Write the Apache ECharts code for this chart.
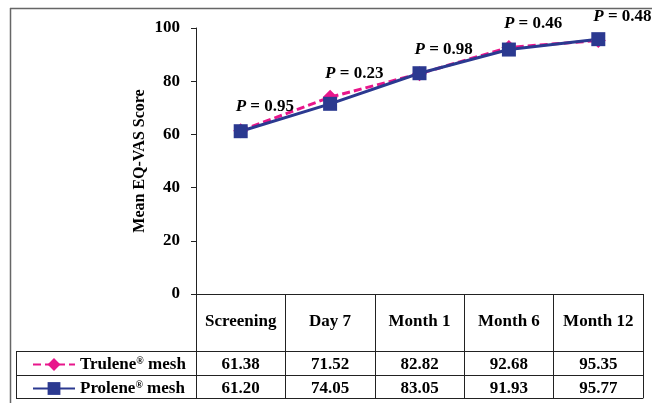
<!DOCTYPE html>
<html>
<head>
<meta charset="utf-8">
<script src="https://cdn.jsdelivr.net/npm/echarts@6/dist/echarts.min.js"></script>
<style>
  html, body { margin: 0; padding: 0; background: #fff; }
  #main { width: 652px; height: 403px; }
</style>
</head>
<body>
<div id="main"></div>
<script>
var categories = ['Screening', 'Day 7', 'Month 1', 'Month 6', 'Month 12'];
// values plotted
var truleneLine = [61.4, 74.0, 82.8, 92.7, 95.3];
var proleneLine = [61.2, 71.5, 83.0, 91.9, 95.8];
// values printed in the table under the chart
var truleneTable = ['61.38', '71.52', '82.82', '92.68', '95.35'];
var proleneTable = ['61.20', '74.05', '83.05', '91.93', '95.77'];
var pValues = ['0.95', '0.23', '0.98', '0.46', '0.48'];
var yTicks = [0, 20, 40, 60, 80, 100];

var serif = '"Liberation Serif", "DejaVu Serif", serif';
var pink = '#e8168b';
var navy = '#2b3990';

var dom = document.getElementById('main');
var chart = echarts.init(dom);

function tableAxis(data, offset, tickLen, margin, showLabel) {
    return {
        type: 'category',
        gridIndex: 0,
        position: 'bottom',
        offset: offset,
        data: data,
        boundaryGap: true,
        axisLine: { show: true, lineStyle: { color: '#222', width: 1 } },
        axisTick: { show: tickLen > 0, interval: 0, length: tickLen, lineStyle: { color: '#222', width: 1 } },
        axisLabel: {
            show: showLabel,
            interval: 0,
            margin: margin,
            color: '#000',
            fontFamily: serif,
            fontWeight: 'bold',
            fontSize: 17
        },
        splitLine: { show: false }
    };
}

function legendRow(name, top) {
    return {
        orient: 'horizontal',
        left: 27,
        top: top,
        itemWidth: 42,
        itemHeight: 16,
        itemGap: 6,
        data: [name],
        formatter: function (n) { return n.replace('®', '{s|®}'); },
        textStyle: {
            color: '#000',
            fontFamily: serif,
            fontWeight: 'bold',
            fontSize: 17,
            rich: {
                s: { fontFamily: serif, fontWeight: 'bold', fontSize: 10, color: '#000', verticalAlign: 'top', padding: [0, 0, 6, 0] }
            }
        }
    };
}

var option = {
    backgroundColor: '#fff',
    animation: false,
    grid: {
        left: 196,
        right: 9,
        top: 28,
        bottom: 109,
        containLabel: false
    },
    legend: [
        legendRow('Trulene® mesh', 351),
        legendRow('Prolene® mesh', 375)
    ],
    xAxis: [
        tableAxis(categories, 0, 57, 19, true),
        tableAxis(truleneTable, 57, 24, 5, true),
        tableAxis(proleneTable, 81, 23, 5, true),
        tableAxis(categories, 104, 0, 0, false)
    ],
    yAxis: {
        type: 'value',
        min: 0,
        max: 100,
        interval: 20,
        name: 'Mean EQ-VAS Score',
        nameLocation: 'middle',
        nameGap: 48,
        nameMoveOverlap: false,
        nameTextStyle: { color: '#000', fontFamily: serif, fontWeight: 'bold', fontSize: 16 },
        axisLine: { show: true, lineStyle: { color: '#222', width: 1 } },
        axisTick: { show: true, length: 5, lineStyle: { color: '#222' } },
        axisLabel: {
            margin: 16,
            color: '#000',
            fontFamily: serif,
            fontWeight: 'bold',
            fontSize: 17,
            formatter: function (v) { return yTicks.indexOf(v) >= 0 ? String(v) : ''; }
        },
        splitLine: { show: false }
    },
    series: [
        {
            name: 'Trulene® mesh',
            type: 'line',
            data: truleneLine,
            symbol: 'diamond',
            symbolSize: 15,
            color: pink,
            lineStyle: { color: pink, width: 3, type: [8, 4] },
            itemStyle: { color: pink },
            label: {
                show: true,
                position: 'top',
                distance: 8,
                align: 'left',
                offset: [-5, 0],
                color: '#000',
                fontFamily: serif,
                fontWeight: 'bold',
                fontSize: 17,
                formatter: function (p) { return '{i|P} = ' + pValues[p.dataIndex]; },
                rich: {
                    i: { fontFamily: serif, fontWeight: 'bold', fontStyle: 'italic', fontSize: 17, color: '#000' }
                }
            }
        },
        {
            name: 'Prolene® mesh',
            type: 'line',
            data: proleneLine,
            symbol: 'rect',
            symbolSize: 14,
            color: navy,
            lineStyle: { color: navy, width: 3 },
            itemStyle: { color: navy }
        }
    ],
    graphic: [
        // outer frame
        { type: 'line', shape: { x1: 10, y1: 8.5, x2: 652, y2: 8.5 }, style: { stroke: '#666', lineWidth: 1.5 } },
        { type: 'line', shape: { x1: 10.5, y1: 8, x2: 10.5, y2: 403 }, style: { stroke: '#666', lineWidth: 1.5 } },
        // left part of the table (legend column)
        { type: 'line', shape: { x1: 16, y1: 351.5, x2: 196, y2: 351.5 }, style: { stroke: '#222', lineWidth: 1 } },
        { type: 'line', shape: { x1: 16, y1: 375.5, x2: 196, y2: 375.5 }, style: { stroke: '#222', lineWidth: 1 } },
        { type: 'line', shape: { x1: 16, y1: 398.5, x2: 196, y2: 398.5 }, style: { stroke: '#222', lineWidth: 1 } },
        { type: 'line', shape: { x1: 16.5, y1: 351, x2: 16.5, y2: 399 }, style: { stroke: '#222', lineWidth: 1 } }
    ]
};

chart.setOption(option, true);
</script>
</body>
</html>
